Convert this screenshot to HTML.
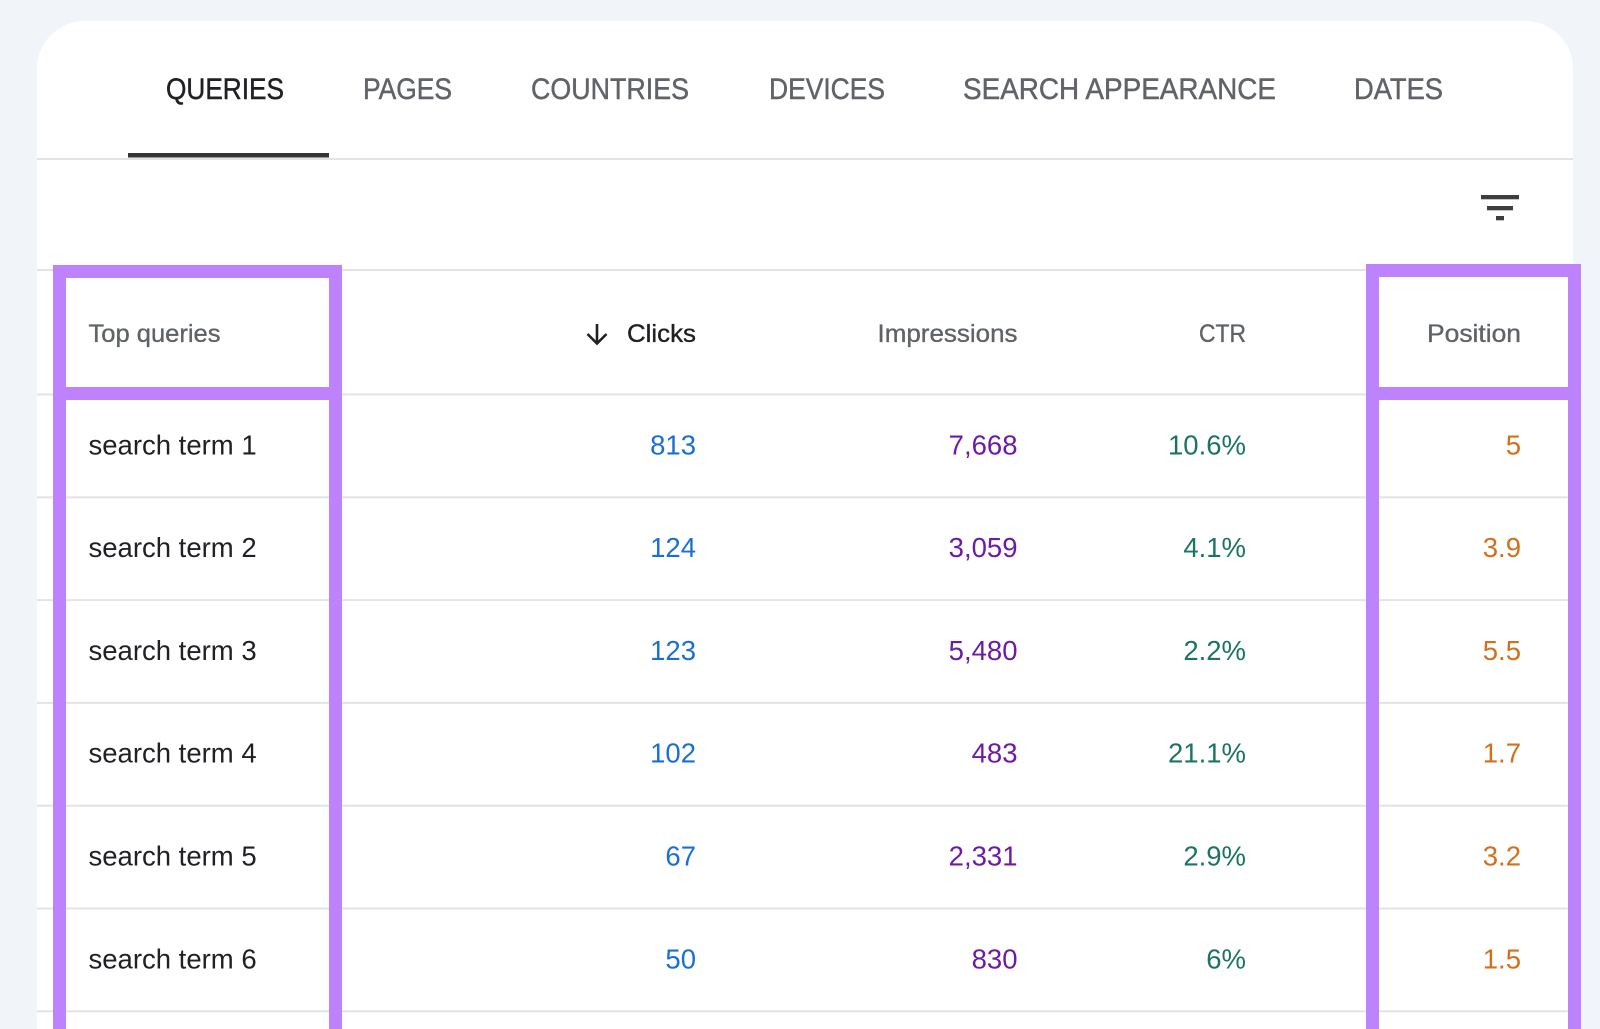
<!DOCTYPE html>
<html>
<head>
<meta charset="utf-8">
<style>
  html,body{margin:0;padding:0;background:#f1f5fa;width:1600px;height:1029px;overflow:hidden;}
  svg{display:block;}
  text{font-family:"Liberation Sans",Arial,sans-serif;}
  .tab{font-size:30px;fill:#606368;stroke:#606368;stroke-width:0.45px;}
  .tab.active{fill:#202124;stroke:#202124;}
  .hd{font-size:25px;fill:#5f6368;stroke:#5f6368;stroke-width:0.35px;}
  .hd.dark{fill:#202124;stroke:#202124;}
  .q{font-size:27.5px;fill:#202124;}
  .v{font-size:27.5px;text-anchor:end;}
  .c{fill:#1a6fd6;}
  .i{fill:#6d1ba5;}
  .t{fill:#1b7562;}
  .p{fill:#d2701c;}
</style>
</head>
<body>
<svg width="1600" height="1029" viewBox="0 0 1600 1029" xmlns="http://www.w3.org/2000/svg">
  <rect x="0" y="0" width="1600" height="1029" fill="#f1f5fa"/>
  <path d="M37,1029 L37,69 A48,48 0 0 1 85,21 L1525,21 A48,48 0 0 1 1573,69 L1573,1029 Z" fill="#ffffff"/>

  <!-- tabs -->
  <text class="tab active" x="166" y="99" textLength="118" lengthAdjust="spacingAndGlyphs">QUERIES</text>
  <text class="tab" x="363" y="99" textLength="89" lengthAdjust="spacingAndGlyphs">PAGES</text>
  <text class="tab" x="531" y="99" textLength="158" lengthAdjust="spacingAndGlyphs">COUNTRIES</text>
  <text class="tab" x="769" y="99" textLength="116" lengthAdjust="spacingAndGlyphs">DEVICES</text>
  <text class="tab" x="963" y="99" textLength="313" lengthAdjust="spacingAndGlyphs">SEARCH APPEARANCE</text>
  <text class="tab" x="1354" y="99" textLength="89" lengthAdjust="spacingAndGlyphs">DATES</text>

  <!-- tab underline & divider -->
  <rect x="37" y="158" width="1536" height="2" fill="#e3e3e3"/>
  <rect x="128" y="153" width="201" height="4.5" fill="#333537"/>

  <!-- filter icon -->
  <rect x="1481" y="195" width="38" height="4.3" fill="#3c3d3f"/>
  <rect x="1487" y="206" width="26" height="4.3" fill="#3c3d3f"/>
  <rect x="1496" y="216" width="8" height="4.3" fill="#3c3d3f"/>

  <!-- horizontal lines -->
  <rect x="37" y="269" width="1536" height="2" fill="#e3e3e3"/>
  <g fill="#e3e3e3">
    <rect x="37" y="393.5" width="1536" height="2"/>
    <rect x="37" y="496.3" width="1536" height="2"/>
    <rect x="37" y="599.1" width="1536" height="2"/>
    <rect x="37" y="701.9" width="1536" height="2"/>
    <rect x="37" y="804.7" width="1536" height="2"/>
    <rect x="37" y="907.5" width="1536" height="2"/>
    <rect x="37" y="1010.3" width="1536" height="2"/>
  </g>

  <!-- header -->
  <text class="hd" x="88.5" y="342" textLength="132" lengthAdjust="spacingAndGlyphs">Top queries</text>
  <g stroke="#202124" stroke-width="2.6" fill="none" stroke-linecap="butt">
    <line x1="597" y1="324" x2="597" y2="343"/>
    <polyline points="587.5,334 597,343.5 606.5,334"/>
  </g>
  <text class="hd dark" x="627" y="342" textLength="69" lengthAdjust="spacingAndGlyphs">Clicks</text>
  <text class="hd" x="877.5" y="342" textLength="140" lengthAdjust="spacingAndGlyphs">Impressions</text>
  <text class="hd" x="1199" y="342" textLength="47" lengthAdjust="spacingAndGlyphs">CTR</text>
  <text class="hd" x="1427" y="342" textLength="94" lengthAdjust="spacingAndGlyphs">Position</text>

  <!-- rows -->
  <g>
    <text class="q" x="88.5" y="454.3">search term 1</text>
    <text class="v c" x="696" y="454.3">813</text>
    <text class="v i" x="1017.5" y="454.3">7,668</text>
    <text class="v t" x="1246" y="454.3">10.6%</text>
    <text class="v p" x="1521" y="454.3">5</text>

    <text class="q" x="88.5" y="557.1">search term 2</text>
    <text class="v c" x="696" y="557.1">124</text>
    <text class="v i" x="1017.5" y="557.1">3,059</text>
    <text class="v t" x="1246" y="557.1">4.1%</text>
    <text class="v p" x="1521" y="557.1">3.9</text>

    <text class="q" x="88.5" y="659.9">search term 3</text>
    <text class="v c" x="696" y="659.9">123</text>
    <text class="v i" x="1017.5" y="659.9">5,480</text>
    <text class="v t" x="1246" y="659.9">2.2%</text>
    <text class="v p" x="1521" y="659.9">5.5</text>

    <text class="q" x="88.5" y="762.7">search term 4</text>
    <text class="v c" x="696" y="762.7">102</text>
    <text class="v i" x="1017.5" y="762.7">483</text>
    <text class="v t" x="1246" y="762.7">21.1%</text>
    <text class="v p" x="1521" y="762.7">1.7</text>

    <text class="q" x="88.5" y="865.5">search term 5</text>
    <text class="v c" x="696" y="865.5">67</text>
    <text class="v i" x="1017.5" y="865.5">2,331</text>
    <text class="v t" x="1246" y="865.5">2.9%</text>
    <text class="v p" x="1521" y="865.5">3.2</text>

    <text class="q" x="88.5" y="968.3">search term 6</text>
    <text class="v c" x="696" y="968.3">50</text>
    <text class="v i" x="1017.5" y="968.3">830</text>
    <text class="v t" x="1246" y="968.3">6%</text>
    <text class="v p" x="1521" y="968.3">1.5</text>
  </g>

  <!-- purple highlight boxes -->
  <g fill="#bd82fc">
    <!-- left header box -->
    <rect x="53" y="265" width="289" height="13"/>
    <rect x="53" y="387" width="289" height="13"/>
    <rect x="53" y="265" width="13" height="764"/>
    <rect x="329" y="265" width="13" height="764"/>
    <!-- right box -->
    <rect x="1366" y="264" width="215" height="13"/>
    <rect x="1366" y="387" width="215" height="13"/>
    <rect x="1366" y="264" width="13" height="765"/>
    <rect x="1568" y="264" width="13" height="765"/>
  </g>
</svg>
</body>
</html>
